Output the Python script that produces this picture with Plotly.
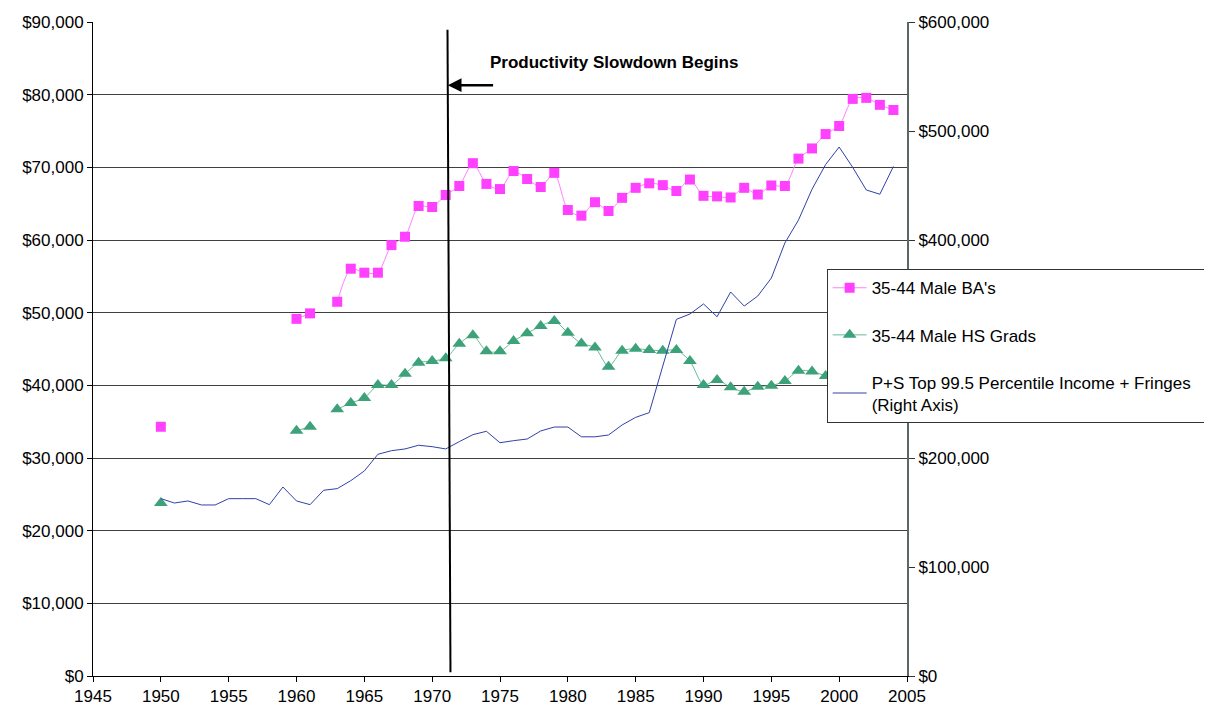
import plotly.graph_objects as go

# ---------------- data ----------------
years = list(range(1950, 2005))

# None marks years with no survey value (gaps in the line)
ba_values = [34300, None, None, None, None, None, None, None, None, None,
             49150, 49900, None, 51500, 56050, 55500, 55500, 59300, 60450, 64680,
             64540, 66200, 67430, 70570, 67720, 67010, 69490, 68390, 67290, 69240,
             64130, 63350, 65200, 63990, 65800, 67180, 67800, 67550, 66740, 68320,
             66080, 66000, 65850, 67180, 66260, 67500, 67430, 71200, 72600, 74580,
             75690, 79420, 79560, 78600, 77890]

hs_values = [23800, None, None, None, None, None, None, None, None, None,
             33750, 34300, None, 36700, 37570, 38250, 40040, 40040, 41600, 43110,
             43350, 43720, 45730, 46880, 44680, 44680, 46100, 47160, 48160, 48850,
             47240, 45750, 45200, 42560, 44760, 45040, 44860, 44760, 44860, 43350,
             40040, 40730, 39720, 39120, 39810, 39950, 40600, 42010, 41920, 41280,
             None, None, None, None, None]

ps_values = [162750, 158700, 160600, 156900, 156900, 162700, 162700, 162700, 157200, 173400,
             160600, 157200, 170400, 171900, 179200, 188100, 203400, 206700, 208300, 211700,
             210400, 208300, 215000, 221400, 224500, 214000, 215900, 217400, 224800, 228400,
             228400, 219450, 219450, 221100, 230300, 237300, 241600, 283800, 327200, 332100,
             341300, 329600, 352300, 339400, 348600, 365100, 397300, 418300, 446600, 469200,
             485300, 466600, 445900, 442000, 467500]

series_names = ["35-44 Male BA's", "35-44 Male HS Grads",
                "P+S Top 99.5 Percentile Income + Fringes\u00a0\u00a0\u00a0<br>(Right Axis)"]

left_ticks = list(range(0, 90001, 10000))
right_ticks = list(range(0, 600001, 100000))
x_ticks = list(range(1945, 2006, 5))

slowdown_line_x = [1971.13, 1971.35]
slowdown_line_y = [88950, 500]
arrow_tip = (1971.15, 81300)
arrow_tail = (1974.6, 81300)
annotation_text = "Productivity Slowdown Begins"
annotation_pos = (1983.4, 84450)

# ---------------- figure ----------------
FONT = "Liberation Sans, Arial, sans-serif"
FS = 17

fig = go.Figure()

fig.add_trace(go.Scatter(
    x=years, y=ba_values, name=series_names[0], legendgroup="a",
    mode="lines+markers", connectgaps=False,
    line=dict(color="#FF80FF", width=1, shape="spline", smoothing=0.7),
    marker=dict(symbol="square", size=10, color="#FF40FF"),
))
fig.add_trace(go.Scatter(
    x=years, y=hs_values, name=series_names[1], legendgroup="b",
    mode="lines+markers", connectgaps=False,
    line=dict(color="#66BB99", width=1, shape="spline", smoothing=0.7),
    marker=dict(symbol="triangle-up", size=12, color="#3DA27A"),
))
fig.add_trace(go.Scatter(
    x=years, y=ps_values, name=series_names[2], legendgroup="c",
    mode="lines", yaxis="y2",
    line=dict(color="#3042A8", width=1),
))

# vertical slowdown line
fig.add_shape(type="line", xref="x", yref="y",
              x0=slowdown_line_x[0], y0=slowdown_line_y[0],
              x1=slowdown_line_x[1], y1=slowdown_line_y[1],
              line=dict(color="black", width=2))

# arrow
fig.add_annotation(x=arrow_tip[0], y=arrow_tip[1], ax=arrow_tail[0], ay=arrow_tail[1],
                   xref="x", yref="y", axref="x", ayref="y", text="",
                   showarrow=True, arrowhead=2, arrowsize=1.1, arrowwidth=2.5,
                   arrowcolor="black")
fig.add_annotation(x=annotation_pos[0], y=annotation_pos[1], xref="x", yref="y",
                   text="<b>" + annotation_text + "</b>", showarrow=False,
                   font=dict(family=FONT, size=FS, color="black"))

def money(v):
    return "${:,}".format(v)

# The page body has an 8px default margin, so the figure is sized and
# offset to keep the plot area where the reference has it.
fig.update_layout(
    width=1204, height=701,
    margin=dict(l=85, r=305, t=14, b=33, autoexpand=False),
    paper_bgcolor="white", plot_bgcolor="white",
    font=dict(family=FONT, size=FS, color="black"),
    showlegend=True,
    legend=dict(x=0.9013, y=0.622, xanchor="left", yanchor="top",
                bgcolor="white", bordercolor="#333333", borderwidth=1,
                font=dict(family=FONT, size=FS, color="black"),
                tracegroupgap=22, traceorder="grouped", itemwidth=34),
    xaxis=dict(range=[1945, 2005], tickvals=x_ticks, ticks="outside", ticklen=5,
               tickcolor="black", showline=True, linecolor="black", linewidth=1,
               showgrid=False, zeroline=False, automargin=False,
               tickfont=dict(family=FONT, size=FS, color="black")),
    yaxis=dict(range=[0, 90000], tickvals=left_ticks,
               ticktext=[money(v) for v in left_ticks],
               ticks="outside", ticklen=5, tickcolor="black",
               showline=True, linecolor="black", linewidth=1, automargin=False,
               showgrid=True, gridcolor="#404040", gridwidth=1, zeroline=False,
               tickfont=dict(family=FONT, size=FS, color="black")),
    yaxis2=dict(range=[0, 600000], tickvals=right_ticks,
                ticktext=[money(v) for v in right_ticks],
                overlaying="y", side="right", ticks="outside", ticklen=6,
                tickcolor="#333333", showline=True, linecolor="#5A6964", linewidth=2,
                showgrid=False, zeroline=False, automargin=False,
                tickfont=dict(family=FONT, size=FS, color="black")),
    # inner half of the right axis' cross-shaped tick marks
    yaxis3=dict(range=[0, 600000], tickvals=right_ticks, showticklabels=False,
                overlaying="y", side="right", ticks="inside", ticklen=6,
                tickcolor="#333333", showline=False, showgrid=False,
                zeroline=False, automargin=False),
)

fig.write_html("out.html")
